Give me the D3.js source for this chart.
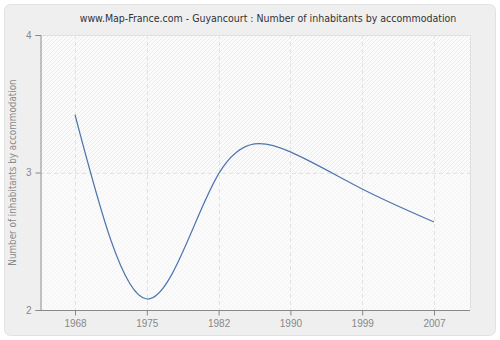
<!DOCTYPE html>
<html>
<head>
<meta charset="utf-8">
<script src="https://cdn.jsdelivr.net/npm/d3@7"></script>
<style>
  html, body { margin: 0; padding: 0; background: #fff; }
  svg { display: block; font-family: "DejaVu Sans Condensed", "DejaVu Sans", Verdana, sans-serif; font-stretch: condensed; }
</style>
</head>
<body>
<svg id="chart" width="500" height="340"></svg>
<script>
// Census years and average number of inhabitants per accommodation
const years = ["1968", "1975", "1982", "1990", "1999", "2007"];
const values = [3.42, 2.08, 2.99, 3.15, 2.88, 2.64];
const yTicks = [2, 3, 4];
const title = "www.Map-France.com - Guyancourt : Number of inhabitants by accommodation";
const yLabel = "Number of inhabitants by accommodation";

const svg = d3.select("#chart");
const W = 500, H = 340;
const plot = { left: 40, right: 470, top: 35, bottom: 310 };

// Outer panel
svg.append("rect")
  .attr("x", 4.5).attr("y", 4.5).attr("width", W - 9).attr("height", H - 9)
  .attr("rx", 6).attr("ry", 6)
  .attr("fill", "#efefef").attr("stroke", "#e2e2e2");

// Hatch patterns for the plot bands
const defs = svg.append("defs");
function hatch(id, color) {
  const p = defs.append("pattern")
    .attr("id", id).attr("patternUnits", "userSpaceOnUse")
    .attr("width", 4).attr("height", 4);
  p.append("rect").attr("width", 4).attr("height", 4).attr("fill", "#fbfbfb");
  p.append("path").attr("d", "M-1,1 L1,-1 M0,4 L4,0 M3,5 L5,3")
    .attr("stroke", color).attr("stroke-width", 0.8);
}
hatch("hatchA", "#e9e9e9");
hatch("hatchB", "#f3f3f3");

const x = d3.scalePoint().domain(years).range([75, 434]);
const y = d3.scaleLinear().domain([2, 4]).range([plot.bottom, plot.top]);

// Alternating bands between y ticks
for (let i = 0; i < yTicks.length - 1; i++) {
  const lo = yTicks[i], hi = yTicks[i + 1];
  svg.append("rect")
    .attr("x", plot.left).attr("y", y(hi))
    .attr("width", plot.right - plot.left).attr("height", y(lo) - y(hi))
    .attr("fill", i % 2 === 0 ? "url(#hatchB)" : "url(#hatchA)");
}

// Plot frame (top / right)
svg.append("path")
  .attr("d", `M${plot.left},${plot.top + 0.5} H${plot.right + 0.5} V${plot.bottom}`)
  .attr("fill", "none").attr("stroke", "#e0e0e0");

// Grid lines
svg.append("g").selectAll("line").data(years).join("line")
  .attr("x1", d => Math.round(x(d)) + 0.5).attr("x2", d => Math.round(x(d)) + 0.5)
  .attr("y1", plot.top).attr("y2", plot.bottom)
  .attr("stroke", "#e2e2e2").attr("stroke-dasharray", "4,3");
svg.append("g").selectAll("line").data(yTicks.slice(1, -1)).join("line")
  .attr("x1", plot.left).attr("x2", plot.right)
  .attr("y1", d => Math.round(y(d)) + 0.5).attr("y2", d => Math.round(y(d)) + 0.5)
  .attr("stroke", "#e2e2e2").attr("stroke-dasharray", "4,3");

// Axes
const xAxis = svg.append("g")
  .attr("transform", `translate(0,${plot.bottom + 0.5})`)
  .call(d3.axisBottom(x).tickSize(5).tickPadding(4));
xAxis.select(".domain").attr("d", `M${plot.left},0H${plot.right}`);

const yAxis = svg.append("g")
  .attr("transform", `translate(${plot.left + 0.5},0)`)
  .call(d3.axisLeft(y).tickValues(yTicks).tickFormat(d3.format("d")).tickSize(5).tickPadding(4));

[xAxis, yAxis].forEach(g => {
  g.select(".domain").attr("stroke", "#888");
  g.selectAll(".tick line").attr("stroke", "#888");
  g.selectAll(".tick text").attr("fill", "#888").attr("font-size", 10)
    .attr("font-family", null);
});

// Data line
svg.append("path")
  .datum(years.map((d, i) => [x(d), y(values[i])]))
  .attr("d", d3.line().curve(d3.curveNatural))
  .attr("fill", "none").attr("stroke", "#4d76ae").attr("stroke-width", 1.2);

// Title
svg.append("text")
  .attr("x", 268).attr("y", 22).attr("text-anchor", "middle")
  .attr("font-size", 10.5).attr("fill", "#333").text(title);

// Y-axis label
svg.append("text")
  .attr("transform", `translate(16,${(plot.top + plot.bottom) / 2}) rotate(-90)`)
  .attr("text-anchor", "middle").attr("font-size", 9.8).attr("fill", "#888")
  .text(yLabel);
</script>
</body>
</html>
